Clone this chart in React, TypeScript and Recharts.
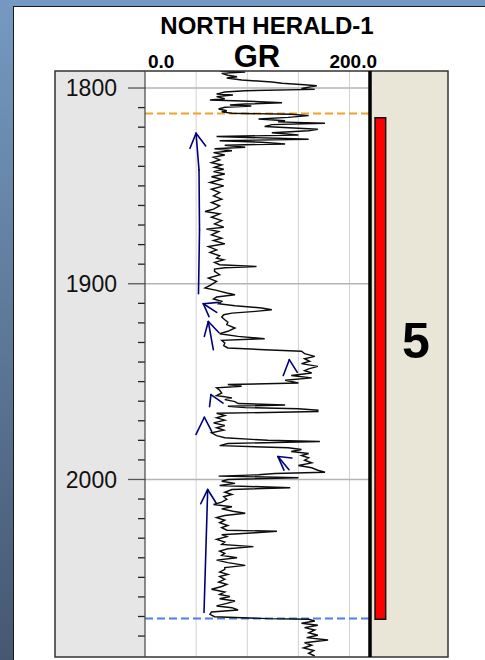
import React from 'react';
import { ScatterChart, Scatter, XAxis, YAxis, ReferenceLine, ReferenceArea } from 'recharts';

// depth range shown in the log (m)
const depthTop = 1791.3;
const depthBottom = 2090.7;
const grDomain = [0, 220];

// GR log (depth m, GR API)
const depths = [
  1791.3, 1791.8, 1792.5, 1793.5, 1794.2, 1794.9, 1795.9, 1796.9, 1797.6, 1798.3, 1798.8, 1799.3, 1800.2, 1800.7,
  1801.4, 1802.0, 1803.1, 1803.6, 1804.4, 1805.5, 1806.1, 1806.6, 1807.5, 1808.2, 1808.7, 1809.2, 1809.8, 1810.7,
  1811.6, 1812.2, 1812.9, 1813.4, 1814.1, 1815.0, 1815.8, 1816.7, 1817.3, 1818.0, 1818.7, 1819.7, 1821.1, 1821.8,
  1822.8, 1824.0, 1824.8, 1825.7, 1826.2, 1826.9, 1827.7, 1828.6, 1829.2, 1830.3, 1831.0, 1832.0, 1833.0, 1834.2,
  1835.4, 1836.7, 1838.1, 1839.3, 1840.5, 1841.5, 1842.7, 1843.9, 1845.3, 1846.6, 1848.3, 1850.0, 1851.7, 1853.4,
  1855.1, 1856.8, 1858.5, 1860.2, 1861.9, 1863.1, 1864.3, 1866.0, 1867.7, 1869.4, 1871.1, 1872.1, 1873.3, 1875.0,
  1876.7, 1877.9, 1879.6, 1881.0, 1882.7, 1884.0, 1885.7, 1886.9, 1887.8, 1889.1, 1890.3, 1891.2, 1891.8, 1892.5,
  1893.7, 1895.4, 1897.1, 1898.8, 1900.5, 1902.2, 1903.4, 1904.7, 1905.6, 1906.8, 1907.8, 1909.0, 1910.2, 1911.2,
  1912.4, 1913.3, 1914.1, 1915.0, 1915.8, 1917.0, 1918.4, 1919.7, 1920.9, 1922.6, 1924.3, 1925.5, 1926.9, 1928.1,
  1928.9, 1930.3, 1931.6, 1932.8, 1933.7, 1934.5, 1935.7, 1937.1, 1938.3, 1939.6, 1940.8, 1942.2, 1943.5, 1944.4,
  1945.6, 1946.9, 1948.1, 1949.3, 1950.7, 1951.5, 1952.4, 1953.2, 1954.4, 1955.8, 1957.1, 1958.3, 1959.2, 1960.2,
  1961.2, 1961.9, 1962.6, 1963.3, 1963.9, 1964.6, 1965.3, 1966.2, 1967.3, 1968.5, 1969.7, 1971.1, 1972.4, 1973.6,
  1974.8, 1976.2, 1977.6, 1978.7, 1980.0, 1980.6, 1981.6, 1982.7, 1983.8, 1984.7, 1985.7, 1986.7, 1987.8, 1988.9,
  1990.2, 1991.5, 1992.9, 1994.0, 1995.3, 1996.3, 1996.9, 1997.6, 1998.3, 1999.1, 2000.0, 2000.9, 2002.0, 2003.1,
  2004.2, 2005.1, 2006.5, 2007.7, 2008.8, 2010.2, 2011.6, 2012.8, 2013.9, 2015.0, 2016.2, 2017.3, 2018.4, 2019.5,
  2020.8, 2022.1, 2023.5, 2024.6, 2025.9, 2026.5, 2027.2, 2028.2, 2029.2, 2030.6, 2032.0, 2033.2, 2034.3, 2035.4,
  2036.6, 2037.8, 2038.8, 2040.0, 2041.2, 2042.5, 2043.9, 2045.0, 2045.9, 2047.3, 2048.5, 2049.6, 2051.0, 2052.4,
  2053.6, 2054.7, 2056.1, 2057.5, 2058.7, 2059.8, 2060.9, 2062.1, 2063.3, 2064.6, 2065.5, 2066.7, 2067.7, 2068.9,
  2070.1, 2071.1, 2071.4, 2072.3, 2073.5, 2074.5, 2075.7, 2076.9, 2078.3, 2079.6, 2080.8, 2082.0, 2083.4, 2084.7,
  2086.1, 2087.4, 2088.8, 2090.2,
];
const grValues = [
  73, 98, 75, 81, 90, 80, 94.5, 124, 134, 156, 168, 163, 153, 166,
  98, 78, 70, 86, 70, 78, 63.5, 94.5, 134, 98, 83, 104, 78, 72,
  80, 75, 85, 143, 160, 140, 111, 137, 130, 176, 124, 117, 169, 160,
  124, 150, 70, 130, 160, 73, 114, 137, 78, 98, 68, 85, 67, 78,
  67, 73, 65, 75, 68, 77, 67, 78, 65, 75, 63.5, 77, 65, 73,
  67, 75, 65, 73, 67, 58.7, 73, 65, 75, 68, 77, 60, 72, 65,
  75, 67, 78, 62, 70, 63.5, 73, 70, 77, 68, 73, 109, 78, 68,
  68, 73, 62, 70, 65, 58.7, 70, 80, 88, 70, 67, 75, 72, 88,
  114, 124, 108, 85, 77, 75, 78, 81, 80, 88, 81, 73, 91, 117,
  75, 78, 77, 81, 117, 153, 156, 166, 156, 161, 153, 169, 160, 156,
  163, 143, 163, 137, 150, 81, 94.5, 70, 73, 75, 70, 85, 78, 88,
  91, 137, 81, 98, 150, 169, 169, 70, 78, 70, 78, 67, 78, 70,
  77, 65, 70, 78, 120, 171, 81, 73, 140, 153, 143, 160, 153, 160,
  156, 163, 150, 163, 169, 176, 127, 111, 72, 150, 81, 75, 88, 73,
  142, 85, 78, 85, 77, 80, 75, 67, 85, 75, 86, 98, 78, 70,
  78, 73, 81, 75, 80, 129, 108, 75, 80, 70, 78, 75, 106, 81,
  73, 78, 75, 90, 70, 81, 98, 78, 78, 73, 81, 73, 78, 72,
  80, 75, 65, 78, 73, 83, 73, 88, 80, 70, 85, 91, 65, 63.5,
  68, 120, 160, 166, 153, 169, 156, 166, 160, 169, 158, 179, 156, 163,
  155, 165, 160, 166,
];

const depthTicks = [
  1800, 1810, 1820, 1830, 1840, 1850, 1860, 1870, 1880, 1890, 1900, 1910, 1920, 1930, 1940,
  1950, 1960, 1970, 1980, 1990, 2000, 2010, 2020, 2030, 2040, 2050, 2060, 2070, 2080,
];
const majorDepths = [1800, 1900, 2000];
const gridGR = [50, 100, 150, 200];

// top / base picks
const topPick = 1813;
const basePick = 2071;

// zone 5 interval
const zoneTop = 1815.2;
const zoneBottom = 2071.4;
const zoneLabel = '5';

// hand-drawn trend arrows, polylines as [GR, depth]
const arrowStrokes: number[][][] = [
  [[52.3, 1905.1], [53.3, 1872.4], [52.8, 1841.8], [49.9, 1823.1]],
  [[44.0, 1830.8], [49.9, 1823.1], [59.4, 1829.6]],
  [[71.7, 1909.5], [57.0, 1910.2], [62.6, 1916.8]],
  [[70.1, 1914.6], [57.0, 1910.2]],
  [[66.8, 1933.7], [61.9, 1919.3]],
  [[58.0, 1926.9], [61.9, 1919.3], [72.4, 1925.0]],
  [[135.2, 1946.9], [141.1, 1938.8], [148.9, 1945.3]],
  [[63.1, 1962.8], [64.5, 1956.6], [76.3, 1961.0]],
  [[49.9, 1977.0], [58.0, 1968.2], [65.2, 1975.4]],
  [[143.7, 1989.0], [130.0, 1988.3], [135.9, 1995.2]],
  [[140.8, 1995.0], [130.0, 1988.3]],
  [[57.7, 2068.0], [61.3, 2005.1]],
  [[54.5, 2012.4], [61.3, 2005.1], [69.4, 2011.9]],
];

const logData = depths.map((d, i) => ({ depth: d, gr: grValues[i] }));
const arrowSegments = arrowStrokes.flatMap((pts) =>
  pts.slice(1).map((p, i) => [pts[i], p])
);

const FONT = '"Liberation Sans", Arial, sans-serif';

const DepthTick = (props: any) => {
  const { x, y, payload } = props;
  const major = majorDepths.includes(payload.value);
  return (
    <g>
      <line x1={x - (major ? 17 : 7)} x2={x} y1={y} y2={y} stroke={major ? '#555' : '#222'} strokeWidth={1.3} />
      {major && (
        <text x={x - 28} y={y} dy="0.36em" textAnchor="end" fontSize={23} fontFamily={FONT} fill="#111">
          {payload.value}
        </text>
      )}
    </g>
  );
};

const ArrowLine = (props: any) => {
  const { x1, y1, x2, y2 } = props;
  return <line x1={x1} y1={y1} x2={x2} y2={y2} stroke="#00007a" strokeWidth={1.6} strokeLinecap="round" />;
};

const NoDot = () => <g />;

export default function App() {
  return (
    <div
      style={{
        position: 'absolute',
        left: 0,
        top: 0,
        width: 485,
        height: 660,
        overflow: 'hidden',
        background: 'linear-gradient(to bottom, #7599c2, #455870)',
        fontFamily: FONT,
      }}
    >
      {/* white sheet */}
      <div
        style={{
          position: 'absolute',
          left: 13,
          top: 6,
          width: 472,
          height: 654,
          background: '#fff',
          borderLeft: '1.5px solid #1a1a1a',
          borderTop: '1.5px solid #1a1a1a',
        }}
      />
      {/* track backgrounds */}
      <div style={{ position: 'absolute', left: 55, top: 71, width: 90, height: 586, background: '#e6e6e6' }} />
      <div style={{ position: 'absolute', left: 370, top: 71, width: 78, height: 586, background: '#e9e6d8' }} />

      <div style={{ position: 'absolute', left: 0, top: 0 }}>
        <ScatterChart width={485} height={660} margin={{ top: 71, right: 115, bottom: 3, left: 55 }}>
          <XAxis type="number" dataKey="gr" domain={grDomain} hide allowDataOverflow />
          <YAxis
            type="number"
            dataKey="depth"
            domain={[depthTop, depthBottom]}
            reversed
            allowDataOverflow
            width={90}
            ticks={depthTicks}
            interval={0}
            axisLine={false}
            tickLine={false}
            tickSize={0}
            tickMargin={0}
            tick={<DepthTick />}
          />
          {gridGR.map((g) => (
            <ReferenceLine key={'gx' + g} x={g} stroke="#d2d2d2" strokeWidth={1} />
          ))}
          {majorDepths.map((d) => (
            <ReferenceLine key={'gy' + d} y={d} stroke="#b4b4b4" strokeWidth={1.5} />
          ))}
          <Scatter
            data={logData}
            line={{ stroke: '#0d0d0d', strokeWidth: 1.45 }}
            lineType="joint"
            shape={<NoDot />}
            isAnimationActive={false}
          />
          <ReferenceLine y={topPick} stroke="#f2a02c" strokeWidth={2} strokeDasharray="8 4" />
          <ReferenceLine y={basePick} stroke="#4f7fe6" strokeWidth={2} strokeDasharray="8 4" />
          {arrowSegments.map((s, i) => (
            <ReferenceLine
              key={'a' + i}
              segment={[
                { x: s[0][0], y: s[0][1] },
                { x: s[1][0], y: s[1][1] },
              ]}
              ifOverflow="visible"
              shape={<ArrowLine />}
            />
          ))}
        </ScatterChart>
      </div>

      {/* zone track */}
      <div style={{ position: 'absolute', left: 372, top: 0 }}>
        <ScatterChart width={76} height={660} margin={{ top: 71, right: 0, bottom: 3, left: 0 }}>
          <XAxis type="number" dataKey="x" domain={[0, 1]} hide />
          <YAxis type="number" dataKey="depth" domain={[depthTop, depthBottom]} reversed hide width={0} />
          <Scatter
            data={[{ x: 0.1, depth: zoneTop }, { x: 0.1, depth: zoneBottom }]}
            shape={<NoDot />}
            isAnimationActive={false}
          />
          <ReferenceArea
            x1={0.04}
            x2={0.18}
            y1={zoneTop}
            y2={zoneBottom}
            fill="#ff0000"
            fillOpacity={1}
            stroke="#111"
            strokeWidth={1.5}
          />
        </ScatterChart>
      </div>

      {/* frame and headers */}
      <svg width={485} height={660} style={{ position: 'absolute', left: 0, top: 0, pointerEvents: 'none' }}>
        <rect x={55} y={71} width={393} height={586} fill="none" stroke="#333" strokeWidth={1.5} />
        <line x1={145} x2={145} y1={71} y2={657} stroke="#444" strokeWidth={1.2} />
        <line x1={370} x2={370} y1={71} y2={657} stroke="#000" strokeWidth={3.5} />
        <text x={267} y={34} textAnchor="middle" fontSize={24} fontWeight="bold" fontFamily={FONT}>
          NORTH HERALD-1
        </text>
        <text x={257} y={67} textAnchor="middle" fontSize={31} fontWeight="bold" fontFamily={FONT}>
          GR
        </text>
        <text x={148} y={68} textAnchor="start" fontSize={19} fontWeight="bold" fontFamily={FONT}>
          0.0
        </text>
        <text x={377} y={68} textAnchor="end" fontSize={19} fontWeight="bold" fontFamily={FONT}>
          200.0
        </text>
        <text x={416} y={358} textAnchor="middle" fontSize={50} fontWeight="bold" fontFamily={FONT}>
          {zoneLabel}
        </text>
      </svg>
    </div>
  );
}
